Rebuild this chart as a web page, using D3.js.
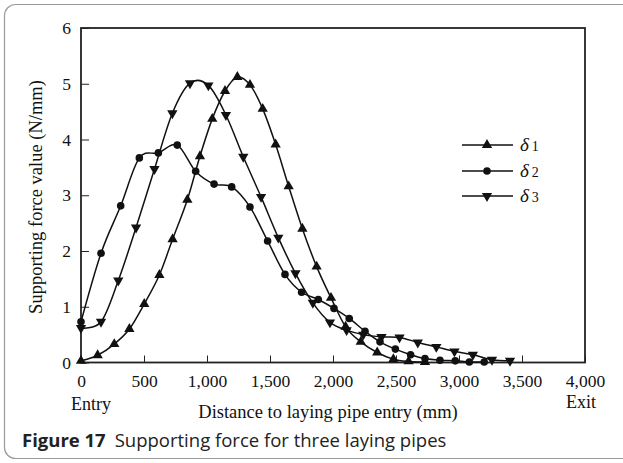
<!DOCTYPE html>
<html><head><meta charset="utf-8">
<script src="https://cdn.jsdelivr.net/npm/d3@7"></script>
<style>
html,body{margin:0;padding:0;background:#fff;}
svg{display:block;}
</style></head>
<body>
<script>
// ---- data ----
const xTicks = [0, 500, 1000, 1500, 2000, 2500, 3000, 3500, 4000];
const yTicks = [0, 1, 2, 3, 4, 5, 6];
const seriesNames = ["δ1", "δ2", "δ3"];

const d1x = [0, 132, 264, 384, 502, 622, 727, 844, 944, 1042, 1143, 1241, 1341, 1442, 1545, 1648, 1757, 1870, 1984, 2100, 2220, 2351, 2479, 2600, 2730];
const d1y = [0.03, 0.13, 0.33, 0.6, 1.05, 1.57, 2.21, 2.92, 3.7, 4.37, 4.87, 5.12, 4.98, 4.55, 3.91, 3.16, 2.4, 1.72, 1.16, 0.64, 0.37, 0.18, 0.06, 0.02, 0.01];

const d2x = [0, 159, 315, 463, 614, 764, 910, 1056, 1196, 1341, 1481, 1619, 1751, 1883, 2008, 2129, 2254, 2373, 2495, 2616, 2730, 2849, 2970, 3082, 3200];
const d2y = [0.73, 1.96, 2.81, 3.67, 3.76, 3.9, 3.43, 3.2, 3.15, 2.79, 2.18, 1.58, 1.26, 1.13, 0.97, 0.79, 0.56, 0.37, 0.24, 0.14, 0.07, 0.04, 0.03, 0.01, 0.01];

const d3x = [0, 159, 296, 437, 583, 725, 865, 1011, 1150, 1288, 1429, 1566, 1702, 1840, 1976, 2108, 2240, 2385, 2528, 2673, 2820, 2964, 3110, 3262, 3405];
const d3y = [0.62, 0.73, 1.47, 2.42, 3.47, 4.47, 5.01, 4.97, 4.44, 3.69, 2.97, 2.24, 1.6, 1.07, 0.72, 0.58, 0.5, 0.46, 0.45, 0.36, 0.28, 0.2, 0.14, 0.05, 0.03];

const series = [
  {name: seriesNames[0], xs: d1x, ys: d1y, marker: "up"},
  {name: seriesNames[1], xs: d2x, ys: d2y, marker: "circle"},
  {name: seriesNames[2], xs: d3x, ys: d3y, marker: "down"}
];

// ---- layout ----
const W = 623, H = 463;
const M = {left: 81, right: 585, top: 28, bottom: 362.5};
const serif = "'Liberation Serif', 'Times New Roman', serif";

const svg = d3.select("body").append("svg").attr("width", W).attr("height", H);

// outer rounded frame
svg.append("rect").attr("x", 4.5).attr("y", 4.5).attr("width", 660).attr("height", 454)
  .attr("rx", 11).attr("fill", "none").attr("stroke", "#9a9a9a").attr("stroke-width", 1.2);

const x = d3.scaleLinear().domain([0, 4000]).range([M.left, M.right]);
const y = d3.scaleLinear().domain([0, 6]).range([M.bottom, M.top]);

// axes
const xAxis = d3.axisBottom(x).tickValues(xTicks).tickSizeInner(-7).tickSizeOuter(0)
  .tickPadding(12).tickFormat(d3.format(","));
const yAxis = d3.axisLeft(y).tickValues(yTicks).tickSizeInner(-8).tickSizeOuter(0)
  .tickPadding(10).tickFormat(d3.format("d"));

const gx = svg.append("g").attr("transform", `translate(0,${M.bottom})`).call(xAxis);
const gy = svg.append("g").attr("transform", `translate(${M.left},0)`).call(yAxis);
[gx, gy].forEach(g => {
  g.select(".domain").remove();
  g.selectAll(".tick line").attr("stroke", "#222").attr("stroke-width", 1);
  g.selectAll(".tick text").attr("font-family", serif).attr("font-size", 17.5).attr("fill", "#111");
});

// plot frame
svg.append("rect").attr("x", M.left).attr("y", M.top)
  .attr("width", M.right - M.left).attr("height", M.bottom - M.top)
  .attr("fill", "none").attr("stroke", "#222").attr("stroke-width", 1.8);

// axis titles
svg.append("text").attr("x", 328).attr("y", 418).attr("text-anchor", "middle")
  .attr("font-family", serif).attr("font-size", 18.5).attr("fill", "#111")
  .text("Distance to laying pipe entry (mm)");
svg.append("text").attr("x", 91).attr("y", 410).attr("text-anchor", "middle")
  .attr("font-family", serif).attr("font-size", 18).attr("fill", "#111").text("Entry");
svg.append("text").attr("x", 581).attr("y", 408).attr("text-anchor", "middle")
  .attr("font-family", serif).attr("font-size", 18).attr("fill", "#111").text("Exit");
svg.append("text").attr("transform", `translate(42,197) rotate(-90)`).attr("text-anchor", "middle")
  .attr("font-family", serif).attr("font-size", 18.5).attr("fill", "#111")
  .text("Supporting force value (N/mm)");

// caption
const cap = svg.append("text").attr("x", 22).attr("y", 447)
  .attr("font-family", "'Open Sans', 'Noto Sans', sans-serif").attr("font-size", 18.5).attr("fill", "#222");
cap.append("tspan").attr("font-weight", "bold").text("Figure 17");
cap.append("tspan").attr("dx", 9).text("Supporting force for three laying pipes");

// markers
function drawMarker(g, type) {
  if (type === "circle") {
    g.append("circle").attr("r", 3.8).attr("fill", "#111");
  } else {
    g.append("path").attr("d", d3.symbol(d3.symbolTriangle, 46)())
      .attr("fill", "#111")
      .attr("transform", type === "down" ? "rotate(180)" : null);
  }
}

const line = d3.line().x(d => x(d[0])).y(d => y(d[1])).curve(d3.curveCardinal.tension(0));

series.forEach(s => {
  const pts = s.xs.map((v, i) => [v, s.ys[i]]);
  svg.append("path").datum(pts).attr("d", line)
    .attr("fill", "none").attr("stroke", "#111").attr("stroke-width", 1.5);
  svg.append("g").selectAll("g").data(pts).join("g")
    .attr("transform", d => `translate(${x(d[0])},${y(d[1])})`)
    .each(function() { drawMarker(d3.select(this), s.marker); });
});

// legend
const legY = [145, 171, 196];
series.forEach((s, i) => {
  const g = svg.append("g").attr("transform", `translate(0,${legY[i]})`);
  g.append("line").attr("x1", 462).attr("x2", 513).attr("y1", 0).attr("y2", 0)
    .attr("stroke", "#111").attr("stroke-width", 1.5);
  const m = g.append("g").attr("transform", "translate(487,0)");
  drawMarker(m, s.marker);
  const t = g.append("text").attr("x", 520).attr("y", 6)
    .attr("font-family", serif).attr("fill", "#111");
  t.append("tspan").attr("font-size", 19).attr("font-style", "italic").text(s.name.charAt(0));
  t.append("tspan").attr("dx", 3).attr("font-size", 14).text(s.name.slice(1));
});
</script>
</body></html>
